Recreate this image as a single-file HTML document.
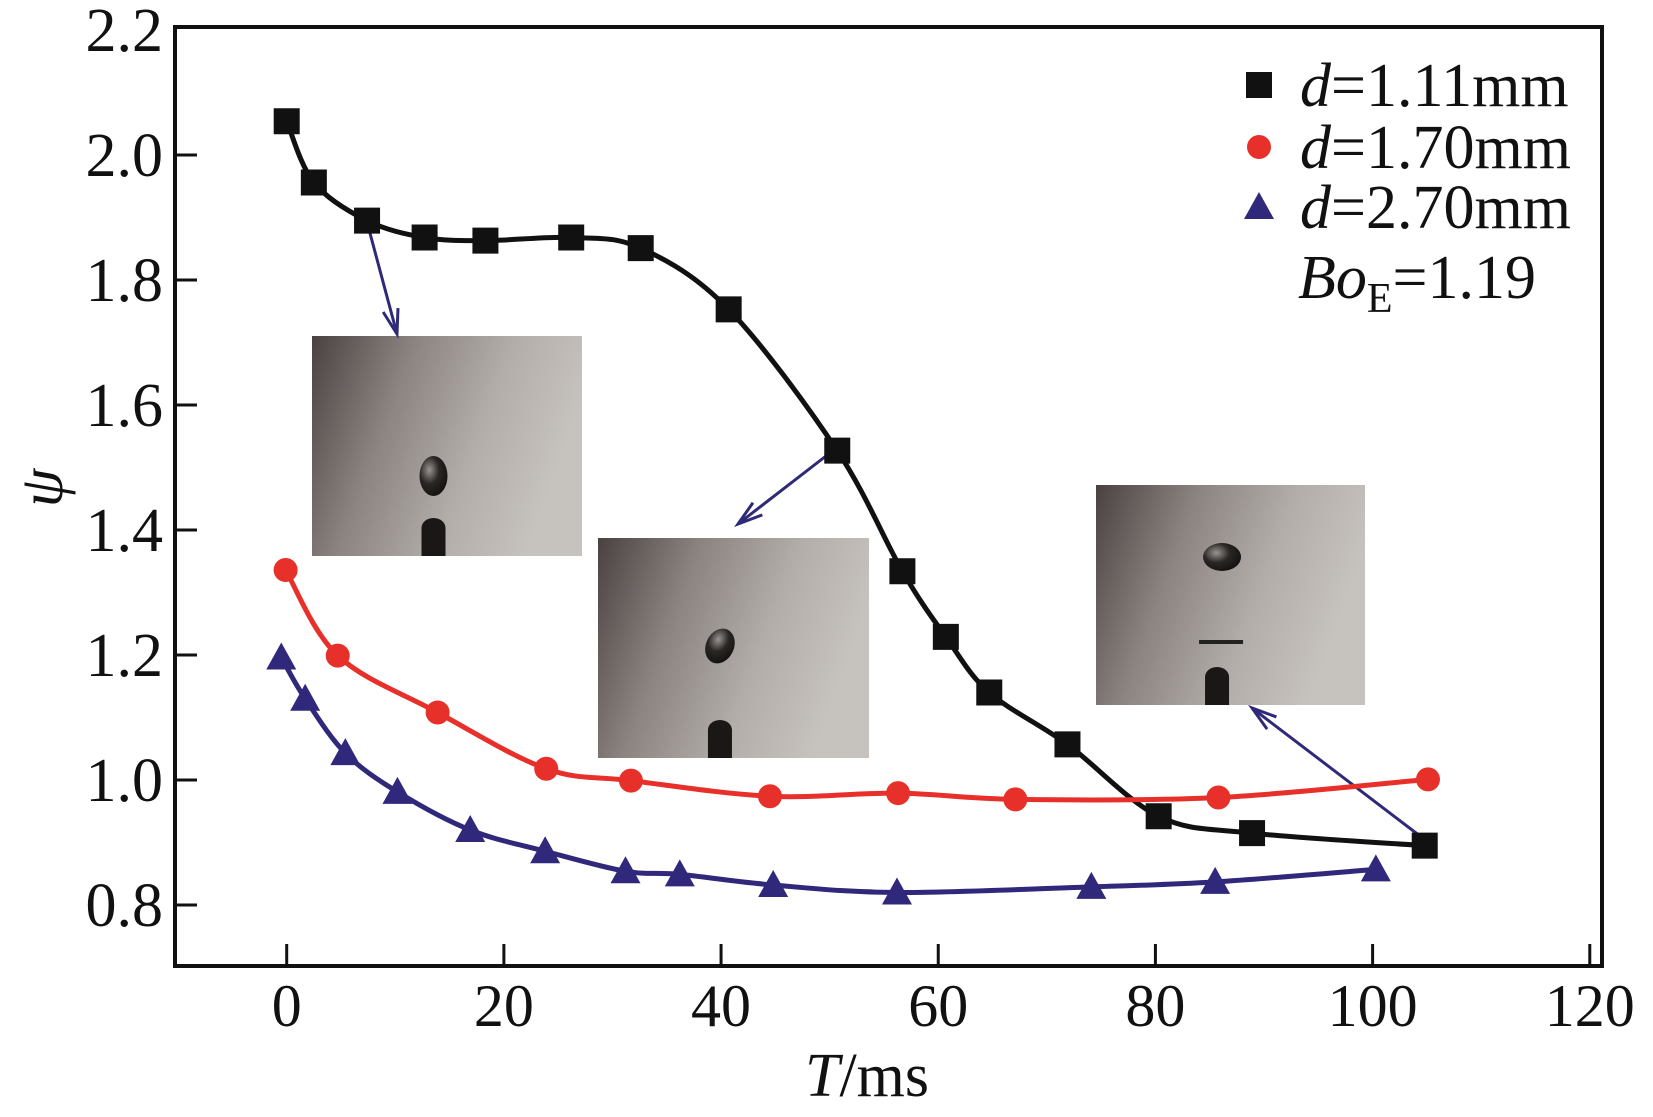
<!DOCTYPE html>
<html><head><meta charset="utf-8"><style>
html,body{margin:0;padding:0;background:#fff;}
svg{display:block;font-family:"Liberation Serif",serif;}
</style></head><body>
<svg id="chart" width="1653" height="1117" viewBox="0 0 1653 1117">
<defs>
<linearGradient id="photoGrad" x1="0" y1="0" x2="1" y2="0.3">
<stop offset="0" stop-color="#4a4240"/><stop offset="0.35" stop-color="#8a8380"/><stop offset="0.7" stop-color="#b4aeaa"/><stop offset="1" stop-color="#c6c2be"/>
</linearGradient>
<radialGradient id="dropGrad" cx="0.35" cy="0.35" r="0.7"><stop offset="0" stop-color="#9a9592"/><stop offset="0.5" stop-color="#2a2624"/><stop offset="1" stop-color="#141210"/></radialGradient>
</defs>
<g id="plot"></g>
</svg>
<script>
const sqT=[0,2.5,7.4,12.7,18.3,26.2,32.6,40.7,50.7,56.7,60.7,64.7,71.9,80.3,88.9,104.8];
const sqV=[2.054,1.956,1.895,1.868,1.863,1.868,1.851,1.753,1.527,1.334,1.229,1.140,1.057,0.942,0.915,0.895];
const ciT=[-0.1,4.7,13.9,23.9,31.7,44.5,56.3,67.1,85.8,105.1];
const ciV=[1.336,1.199,1.108,1.018,0.999,0.974,0.979,0.969,0.972,1.001];
const trT=[-0.5,1.7,5.4,10.2,16.9,23.8,31.2,36.2,44.8,56.2,74.1,85.5,100.3];
const trV=[1.196,1.130,1.043,0.981,0.920,0.886,0.854,0.849,0.832,0.820,0.829,0.837,0.857];
const xTicks=[0,20,40,60,80,100,120];
const yTicks=[0.8,1.0,1.2,1.4,1.6,1.8,2.0,2.2];
const yTickLabels=["0.8","1.0","1.2","1.4","1.6","1.8","2.0","2.2"];

const NS="http://www.w3.org/2000/svg";
const g=document.getElementById('plot');
const L=175,R=1602,T=27,B=966;
const X=t=>286.7+t*10.859;
const Y=v=>905-(v-0.8)*625;
function el(tag,attrs,parent){const e=document.createElementNS(NS,tag);for(const k in attrs)e.setAttribute(k,attrs[k]);(parent||g).appendChild(e);return e;}

const insets=[[312,336,270,220],[598,538,271,220],[1096,485,269,220]];
insets.forEach((p,i)=>{
  const gg=el('g',{});
  
  
  el('rect',{x:p[0],y:p[1],width:p[2],height:p[3],fill:'url(#photoGrad)'},gg);
  const cx=p[0]+p[2]*0.45;
  el('rect',{x:cx-12,y:p[1]+p[3]-28,width:24,height:28,fill:'#1a1716'},gg);
  el('ellipse',{cx:cx,cy:p[1]+p[3]-28,rx:12,ry:10,fill:'#1a1716'},gg);
  if(i==0){el('ellipse',{cx:cx,cy:p[1]+140,rx:14,ry:20,fill:'url(#dropGrad)'},gg);}
  if(i==1){el('ellipse',{cx:cx,cy:p[1]+108,rx:14,ry:18,fill:'url(#dropGrad)',transform:`rotate(25 ${cx} ${p[1]+108})`},gg);}
  if(i==2){el('ellipse',{cx:cx+5,cy:p[1]+72,rx:19,ry:14,fill:'url(#dropGrad)'},gg);
    el('rect',{x:cx-18,y:p[1]+155,width:44,height:4,fill:'#222'},gg);}
});

const arrows=[[367,222,397,334],[826,456,738,524],[1420,836,1252,708]];
arrows.forEach((a,i)=>{
  const ln=el('line',{x1:a[0],y1:a[1],x2:a[2],y2:a[3],stroke:'#2e2a78','stroke-width':3});
  
  
  const ang=Math.atan2(a[3]-a[1],a[2]-a[0]);const s=26,w=0.3;
  const p1=[a[2]-s*Math.cos(ang-w),a[3]-s*Math.sin(ang-w)],p2=[a[2]-s*Math.cos(ang+w),a[3]-s*Math.sin(ang+w)];
  const hd=el('polyline',{points:`${p1} ${a[2]},${a[3]} ${p2}`,fill:'none',stroke:'#2e2a78','stroke-width':3});
  
  
});

const fr=el('rect',{x:L,y:T,width:R-L,height:B-T,fill:'none',stroke:'#111','stroke-width':4});


xTicks.forEach((t,i)=>{
  el('line',{x1:X(t),y1:B,x2:X(t),y2:B-22,stroke:'#111','stroke-width':3});
  const tx=el('text',{x:X(t),y:B+60,'font-size':60,'text-anchor':'middle',fill:'#111'});
  tx.textContent=t;
  
  
});
yTicks.forEach((v,i)=>{
  if(i<yTicks.length-1) el('line',{x1:L,y1:Y(v),x2:L+22,y2:Y(v),stroke:'#111','stroke-width':3});
  const tx=el('text',{x:163,y:Y(v)+21,'font-size':62,'text-anchor':'end',fill:'#111'});
  tx.textContent=yTickLabels[i];
  
  
});
const xt=el('text',{x:867,y:1096,'font-size':62,'text-anchor':'middle',fill:'#111'});
xt.innerHTML='<tspan font-style="italic">T</tspan>/ms';


const yt=el('text',{x:0,y:0,'font-size':62,'font-style':'italic','text-anchor':'middle',fill:'#111',transform:'translate(62,488) rotate(-90)'});
yt.textContent='ψ';



function curve(ts,vs,color,name){
  const P=ts.map((t,i)=>[X(t),Y(vs[i])]);
  let d=`M${P[0]}`;
  for(let i=0;i<P.length-1;i++){
    const p0=P[Math.max(0,i-1)],p1=P[i],p2=P[i+1],p3=P[Math.min(P.length-1,i+2)];
    const c1=[p1[0]+(p2[0]-p0[0])/6,p1[1]+(p2[1]-p0[1])/6],c2=[p2[0]-(p3[0]-p1[0])/6,p2[1]-(p3[1]-p1[1])/6];
    d+=` C${c1} ${c2} ${p2}`;
  }
  const pa=el('path',{d:d,fill:'none',stroke:color,'stroke-width':5});
  
  
}
curve(sqT,sqV,'#111','line-d-1-11');
curve(ciT,ciV,'#e8302a','line-d-1-70');
curve(trT,trV,'#30287a','line-d-2-70');

function square(x,y){return el('rect',{x:x-13,y:y-13,width:26,height:26,fill:'#111'});}
function circle(x,y){return el('circle',{cx:x,cy:y,r:12,fill:'#e8302a'});}
function tri(x,y){return el('polygon',{points:`${x},${y-15} ${x+15},${y+12} ${x-15},${y+12}`,fill:'#30287a'});}
sqT.forEach((t,i)=>{const m=square(X(t),Y(sqV[i]));
  
  });
ciT.forEach((t,i)=>{const m=circle(X(t),Y(ciV[i]));
  
  });
trT.forEach((t,i)=>{const m=tri(X(t),Y(trV[i]));
  
  });

const legLabels=['1.11mm','1.70mm','2.70mm'];
const legMarks=[square,circle,tri];
[85,147,207].forEach((y,i)=>{
  const m=legMarks[i](1259,y);
  
  
  const tx=el('text',{x:1300,y:y+21,'font-size':62,fill:'#111'});
  tx.innerHTML='<tspan font-style="italic">d</tspan>='+legLabels[i];
  
  
});
const bo=el('text',{x:1298,y:298,'font-size':62,fill:'#111'});
bo.innerHTML='<tspan font-style="italic">Bo</tspan><tspan font-size="42" dy="14">E</tspan><tspan dy="-14">=1.19</tspan>';


</script>
</body></html>
